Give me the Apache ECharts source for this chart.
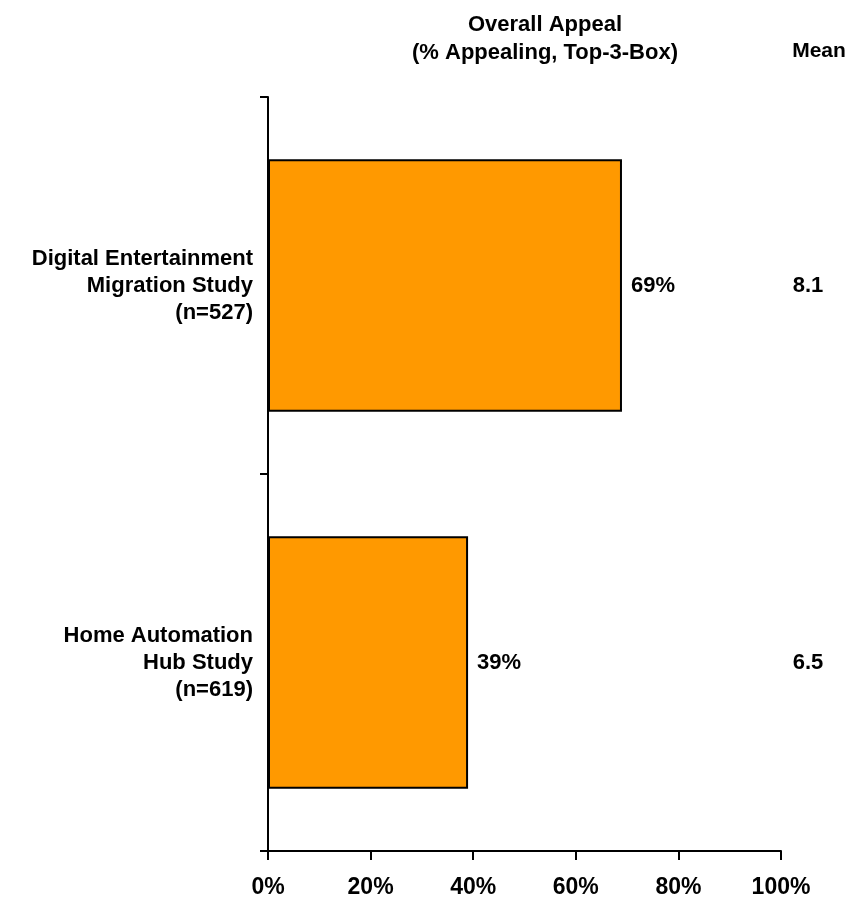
<!DOCTYPE html>
<html>
<head>
<meta charset="utf-8">
<script src="https://cdn.jsdelivr.net/npm/echarts@6/dist/echarts.min.js"></script>
<style>
  html, body { margin: 0; padding: 0; background: #fff; }
  #chart { width: 848px; height: 901px; }
</style>
</head>
<body>
<div id="chart"></div>
<script>
// 数据
const categories = ['Digital Entertainment\nMigration Study\n(n=527)', 'Home Automation\nHub Study\n(n=619)'];
const appealPct = [69, 39];
const meanScores = ['8.1', '6.5'];
const xTicks = [0, 20, 40, 60, 80, 100];

const font = '"Liberation Sans", Arial, sans-serif';
const fs = 22;

const chart = echarts.init(document.getElementById('chart'));

const option = {
  animation: false,
  title: [
    {
      text: 'Overall Appeal\n(% Appealing, Top-3-Box)',
      left: 540, top: 6, textAlign: 'center',
      textStyle: { fontFamily: font, fontSize: fs, fontWeight: 'bold', color: '#000', lineHeight: 28 }
    },
    {
      text: 'Mean',
      left: 814, top: 36, textAlign: 'center',
      textStyle: { fontFamily: font, fontSize: 21, fontWeight: 'bold', color: '#000' }
    }
  ],
  grid: { left: 268, right: 67, top: 97, bottom: 50 },
  xAxis: {
    type: 'value',
    min: xTicks[0],
    max: xTicks[xTicks.length - 1],
    interval: 20,
    axisLine: { show: true, lineStyle: { color: '#000', width: 2 } },
    axisTick: { show: true, length: 9, lineStyle: { color: '#000', width: 2 } },
    splitLine: { show: false },
    axisLabel: {
      formatter: '{value}%', margin: 25,
      fontFamily: font, fontSize: 23, fontWeight: 'bold', color: '#000'
    }
  },
  yAxis: [
    {
      type: 'category',
      data: categories,
      inverse: true,
      axisLine: { show: true, lineStyle: { color: '#000', width: 2 } },
      axisTick: { show: true, length: 8, lineStyle: { color: '#000', width: 2 } },
      axisLabel: {
        margin: 15, align: 'right',
        fontFamily: font, fontSize: fs, fontWeight: 'bold', color: '#000', lineHeight: 27
      }
    },
    {
      type: 'category',
      data: meanScores,
      inverse: true,
      position: 'right',
      axisLine: { show: false },
      axisTick: { show: false },
      axisLabel: {
        margin: 27, align: 'center',
        fontFamily: font, fontSize: fs, fontWeight: 'bold', color: '#000'
      }
    }
  ],
  series: [{
    type: 'bar',
    data: appealPct,
    barCategoryGap: '33%',
    itemStyle: { color: '#FF9900', borderColor: '#000', borderWidth: 2 },
    label: {
      show: true, position: 'right', distance: 9,
      formatter: '{c}%',
      fontFamily: font, fontSize: fs, fontWeight: 'bold', color: '#000'
    }
  }]
};

chart.setOption(option);
</script>
</body>
</html>
